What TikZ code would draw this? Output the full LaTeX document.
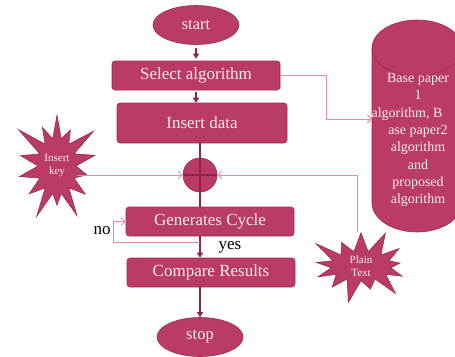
\documentclass[tikz,border=0pt]{standalone}
\usepackage{fontspec}
\setmainfont{Liberation Serif}
\usetikzlibrary{arrows.meta,shapes.geometric,shapes.symbols,calc}
\definecolor{fillc}{HTML}{B93B66}
\definecolor{edgec}{HTML}{9A2C53}
\definecolor{darkc}{HTML}{8E2450}
\definecolor{pinkc}{HTML}{E58AB0}
\definecolor{txtc}{HTML}{F8ECF1}
\tikzset{
  procbox/.style={rectangle, rounded corners=3pt, fill=fillc, draw=edgec, line width=0.6pt,
    text=txtc, font=\fontsize{17}{20}\selectfont, minimum height=29pt, inner sep=0pt},
  termnode/.style={ellipse, fill=fillc, draw=edgec, line width=0.6pt, text=txtc,
    font=\fontsize{16.5}{19}\selectfont, minimum width=86pt, minimum height=39pt, inner sep=0pt},
  burst/.style={starburst, fill=fillc, draw=edgec, line width=0.6pt, text=txtc, align=center,
    font=\fontsize{11}{13}\selectfont, inner sep=0pt},
  darkarrow/.style={draw=darkc, line width=2pt, -{Triangle[length=5pt,width=6pt]}},
  darkline/.style={draw=darkc, line width=1.6pt},
  pinkarrow/.style={draw=pinkc, line width=0.9pt, -{Straight Barb[length=4pt,width=8pt]}},
  lbl/.style={text=black, font=\fontsize{17}{20}\selectfont, inner sep=0pt}
}
\begin{document}
\begin{tikzpicture}[x=1pt,y=-1pt]
\clip (0,0) rectangle (455,356);
\fill[white] (0,0) rectangle (455,356);
% cylinder
\fill[fillc, draw=edgec, line width=0.6pt] (372,48) arc[start angle=180, end angle=0, x radius=45pt, y radius=28pt]
  -- (462,203) arc[start angle=0, end angle=-180, x radius=45pt, y radius=29pt] -- cycle;
\draw[edgec, line width=0.6pt] (372,48) arc[start angle=180, end angle=360, x radius=45pt, y radius=28pt];
\node[text=txtc, align=center, font=\fontsize{14}{17.3}\selectfont, inner sep=0pt] (cyl) at (418,140)
  {Base paper\\1\\\hspace*{-22pt}algorithm, B\\ase paper2\\algorithm\\and\\proposed\\algorithm};
\coordinate (cylin) at (372,119);

\node[termnode] (start) at (196,25) {start};
\node[procbox, minimum width=168pt] (SA) at (196,75.5) {Select algorithm};
\node[procbox, minimum width=170pt, minimum height=40pt] (ID) at (202,123) {Insert data};
\node[circle, fill=fillc, draw=edgec, line width=0.6pt, minimum size=34pt, inner sep=0pt] (sum) at (200,175) {};
\node[procbox, minimum width=168pt] (GC) at (210,221.5) {Generates Cycle};
\node[procbox, minimum width=168pt] (CR) at (211,272.5) {Compare Results};
\node[termnode] (stop) at (200,337) {stop};

\node[burst, starburst points=14, starburst point height=32pt, minimum width=102pt, minimum height=120pt] (IK) at (57,166) {Insert\\key};
\node[burst, starburst points=13, starburst point height=26pt, minimum width=112pt, minimum height=72pt] (PT) at (361,266) {Plain\\Text};

\node[lbl] (no) at (102,231) {no};
\node[lbl] (yes) at (230,247) {yes};
\coordinate (nj) at (200,242);

% dark connectors
\draw[darkarrow, shorten <=3pt, shorten >=2pt] (start.south) -- (start.south |- SA.north);
\draw[darkarrow, shorten <=2pt] (SA.south) -- (SA.south |- ID.north);
\draw[darkline] (sum.center |- ID.south) -- (sum.center |- GC.north);
\draw[darkline] (sum.west) -- (sum.east);
\draw[darkarrow] (sum.center |- GC.south) -- (sum.center |- CR.north);
\draw[darkarrow] (stop.north |- CR.south) -- (stop.north);

% pink connectors
\draw[pinkarrow] (SA.east) -| ([xshift=-46pt]cylin) -- (cylin);
\draw[pinkarrow] (IK.east |- sum.west) -- (sum.west);
\draw[pinkarrow] ([xshift=-4pt]PT.north) |- (sum.east);
\draw[pinkarrow] (nj) -| ([xshift=-12pt]GC.west) -- (GC.west);
\end{tikzpicture}
\end{document}
